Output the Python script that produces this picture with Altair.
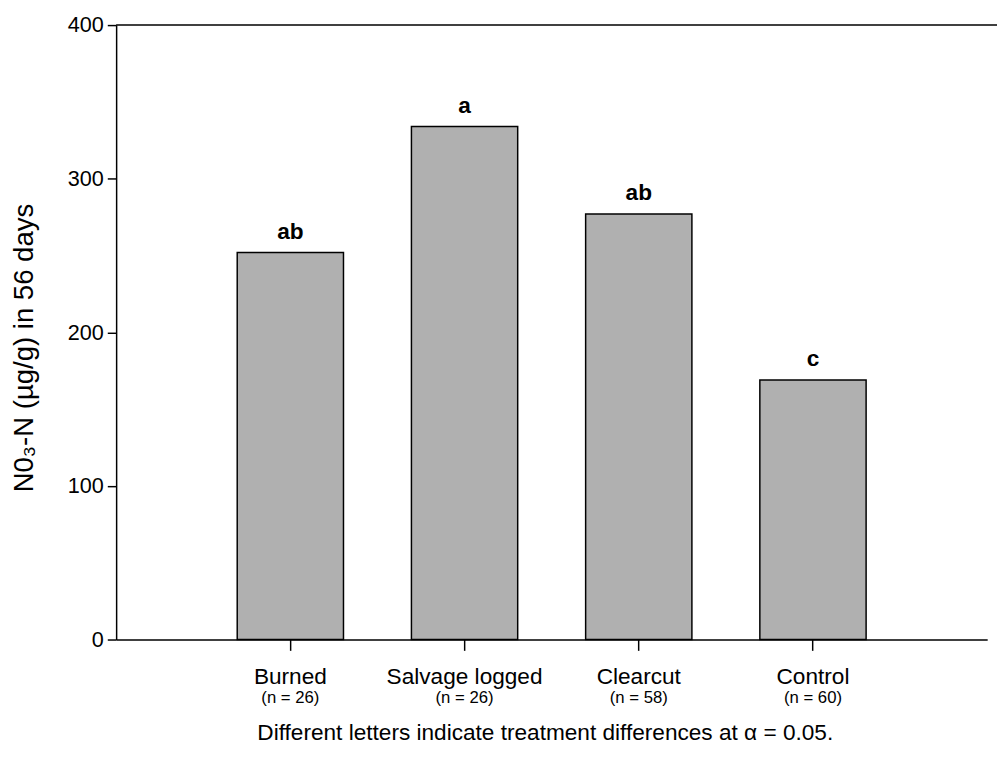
import altair as alt
import pandas as pd

categories = ["Burned", "Salvage logged", "Clearcut", "Control"]
n_labels = ["(n = 26)", "(n = 26)", "(n = 58)", "(n = 60)"]
values = [252, 334, 277, 169]
letters = ["ab", "a", "ab", "c"]
y_ticks = [0, 100, 200, 300, 400]
y_max = [400]

df = pd.DataFrame({"cat": categories, "n": n_labels, "val": values, "letter": letters})

FONT = "Liberation Sans"
W, H = 886, 625

x_enc = alt.X(
    "cat:N",
    sort=categories,
    scale=alt.Scale(paddingInner=0.39, paddingOuter=0.695),
    axis=alt.Axis(
        title="Different letters indicate treatment differences at \u03b1 = 0.05.",
        labelAngle=0,
        labelFontSize=23,
        labelFont=FONT,
        labelColor="black",
        labelPadding=16,
        tickSize=11,
        tickColor="black",
        tickWidth=1.5,
        domainColor="black",
        domainWidth=1.5,
        titleFontSize=23,
        titleFont=FONT,
        titleFontWeight="normal",
        titleColor="black",
        titlePadding=34,
        titleX=436,
    ),
)

y_enc = alt.Y(
    "val:Q",
    scale=alt.Scale(domain=[0, 400], nice=False),
    axis=alt.Axis(
        title="N0\u2083-N (\u00b5g/g) in 56 days",
        values=y_ticks,
        grid=False,
        labelFontSize=22,
        labelFont=FONT,
        labelColor="black",
        labelPadding=4,
        tickSize=9,
        tickColor="black",
        tickWidth=1.5,
        domainColor="black",
        domainWidth=1.5,
        titleFontSize=28,
        titleFont=FONT,
        titleFontWeight="normal",
        titleColor="black",
        titleX=-85,
        titleY=328,
        titleBaseline="alphabetic",
    ),
)

bars = alt.Chart(df).mark_bar(color="#b0b0b0", stroke="black", strokeWidth=1.5).encode(
    x=x_enc, y=y_enc
)

top_rule = alt.Chart(pd.DataFrame({"v": y_max})).mark_rule(
    color="black", strokeWidth=1.5
).encode(y="v:Q", x=alt.value(0), x2=alt.value(W + 10))

letter_text = alt.Chart(df).mark_text(
    font=FONT, fontSize=23, fontWeight="bold", baseline="alphabetic", dy=-14, color="black"
).encode(x=alt.X("cat:N", sort=categories), y="val:Q", text="letter:N")

n_text = alt.Chart(df).mark_text(
    font=FONT, fontSize=17, baseline="alphabetic", dy=65, color="black"
).encode(x=alt.X("cat:N", sort=categories), y=alt.datum(0), text="n:N")

chart = (
    alt.layer(bars, top_rule, letter_text, n_text)
    .properties(
        width=W,
        height=H,
        background="white",
        padding={"left": 3, "top": 0, "right": 0, "bottom": 0},
    )
    .configure_view(strokeWidth=0)
)

chart.save("out.html", embed_options={"renderer": "svg", "actions": False})
